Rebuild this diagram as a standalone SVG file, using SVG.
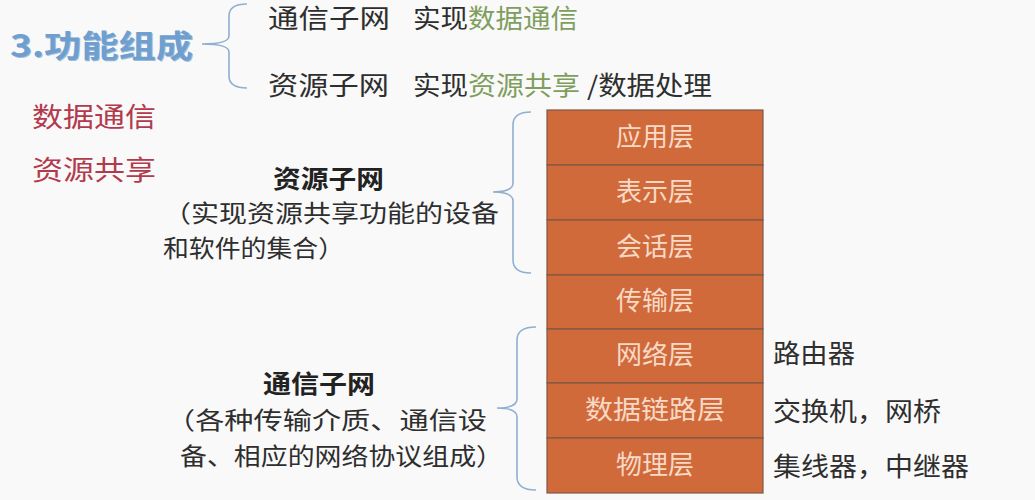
<svg xmlns="http://www.w3.org/2000/svg" width="1035" height="500" viewBox="0 0 1035 500">
<style>
text{font-family:"Noto Sans CJK SC","Noto Sans",sans-serif;}
.t{font-size:26px;fill:#2e2e2e;}
.d{font-size:24px;fill:#2e2e2e;}
.g{fill:#7f9e5e;}
.r{font-size:27px;fill:#b23a4c;}
.b{font-size:25px;font-weight:bold;fill:#222;}
.lay rect{fill:#d06a3b;stroke:#7d5845;stroke-width:1.2;}
.lay text{font-size:26px;fill:#f7d9c6;text-anchor:middle;}
.br{fill:none;stroke:#8fb0d2;stroke-width:1.6;}
</style>
<rect width="1035" height="500" fill="#f9f9f9"/>
<g id="title">
<text x="11" y="58" style="font-size:31px;font-weight:bold;fill:#9dbbd9" textLength="183" lengthAdjust="spacingAndGlyphs">3.功能组成</text>
<text x="10" y="57" style="font-size:31px;font-weight:bold;fill:#6f9fcf" textLength="183" lengthAdjust="spacingAndGlyphs">3.功能组成</text>
</g>
<g id="line-comm">
<text class="t" x="268" y="28" textLength="122" lengthAdjust="spacingAndGlyphs">通信子网</text>
<text class="t" x="413" y="28" textLength="55" lengthAdjust="spacingAndGlyphs">实现</text>
<text class="t g" x="468" y="28" textLength="110" lengthAdjust="spacingAndGlyphs">数据通信</text>
</g>
<g id="line-res">
<text class="t" x="268" y="95" textLength="121" lengthAdjust="spacingAndGlyphs">资源子网</text>
<text class="t" x="413" y="95" textLength="55" lengthAdjust="spacingAndGlyphs">实现</text>
<text class="t g" x="468" y="95" textLength="112" lengthAdjust="spacingAndGlyphs">资源共享</text>
<text class="t" x="587" y="95" textLength="125" lengthAdjust="spacingAndGlyphs">/数据处理</text>
</g>
<g id="red-notes">
<text class="r" x="32" y="127" textLength="124" lengthAdjust="spacingAndGlyphs">数据通信</text>
<text class="r" x="32" y="180" textLength="124" lengthAdjust="spacingAndGlyphs">资源共享</text>
</g>
<g id="res-desc">
<text class="b" x="273" y="188" textLength="111" lengthAdjust="spacingAndGlyphs">资源子网</text>
<text class="d" x="163" y="222" textLength="336" lengthAdjust="spacingAndGlyphs">（实现资源共享功能的设备</text>
<text class="d" x="163" y="257" textLength="181" lengthAdjust="spacingAndGlyphs">和软件的集合）</text>
</g>
<g id="comm-desc">
<text class="b" x="263" y="393" textLength="112" lengthAdjust="spacingAndGlyphs">通信子网</text>
<text class="d" x="166" y="429" textLength="321" lengthAdjust="spacingAndGlyphs">（各种传输介质、通信设</text>
<text class="d" x="180" y="465" textLength="323" lengthAdjust="spacingAndGlyphs">备、相应的网络协议组成）</text>
</g>
<g id="osi" class="lay">
<g id="l7"><rect x="547" y="110" width="216" height="55"/><text x="655" y="146">应用层</text></g>
<g id="l6"><rect x="547" y="165" width="216" height="55"/><text x="655" y="201">表示层</text></g>
<g id="l5"><rect x="547" y="220" width="216" height="55"/><text x="655" y="256">会话层</text></g>
<g id="l4"><rect x="547" y="275" width="216" height="54"/><text x="655" y="310">传输层</text></g>
<g id="l3"><rect x="547" y="329" width="216" height="54"/><text x="655" y="364">网络层</text></g>
<g id="l2"><rect x="547" y="383" width="216" height="55"/><text x="655" y="419" textLength="140" lengthAdjust="spacingAndGlyphs">数据链路层</text></g>
<g id="l1"><rect x="547" y="438" width="216" height="55"/><text x="655" y="474">物理层</text></g>
</g>
<g id="devices">
<text class="t" x="773" y="363" textLength="82" lengthAdjust="spacingAndGlyphs">路由器</text>
<text class="t" x="773" y="421" textLength="168" lengthAdjust="spacingAndGlyphs">交换机，网桥</text>
<text class="t" x="773" y="476" textLength="196" lengthAdjust="spacingAndGlyphs">集线器，中继器</text>
</g>
<g id="connectors">
<path class="br" d="M247,4 Q229,4 229,16 L229,36 Q229,44 202,44 Q229,44 229,52 L229,76 Q229,88 247,88"/>
<path class="br" d="M531,112 Q513,112 513,125 L513,183 Q513,192 493,192 Q513,192 513,201 L513,260 Q513,273 531,273"/>
<path class="br" d="M536,327 Q517,327 517,340 L517,399 Q517,408 497,408 Q517,408 517,417 L517,477 Q517,490 536,490"/>
</g>
</svg>
